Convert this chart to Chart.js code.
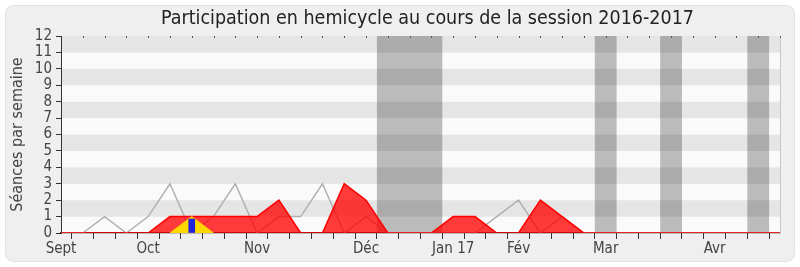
<!DOCTYPE html>
<html>
<head>
<meta charset="utf-8">
<script src="https://cdn.jsdelivr.net/npm/chart.js@4/dist/chart.umd.min.js"></script>
<style>
  html, body { margin: 0; padding: 0; background: #ffffff; }
  #wrap { width: 800px; height: 267px; }
</style>
</head>
<body>
<div id="wrap"><canvas id="c" width="800" height="267"></canvas></div>
<script>
// Weekly axis labels (one entry per week of the session)
const weekLabels = ['Sept','','','','Oct','','','','','Nov','','','','','Déc','','','','Jan 17','','','Fév','','','','Mar','','','','','Avr','','',''];

// Séances per week (grey line)
const seancesTotal = [0,0,1,0,1,3,0,1,3,0,1,1,3,0,1,0,0,0,0,0,1,2,0,1,0,0,0,0,0,0,0,0,0,0];
// Présence in the hemicycle (red area)
const presence = [0,0,0,0,0,1,1,1,1,1,2,0,0,3,2,0,0,0,1,1,0,0,2,1,0,0,0,0,0,0,0,0,0,0];
// Interventions (yellow area)
const interventions = [null,null,null,null,null,0,1,0,null,null,null,null,null,null,null,null,null,null,null,null,null,null,null,null,null,null,null,null,null,null,null,null,null,null];
// Interventions courtes (green line)
const interventionsCourtes = [null,null,null,null,null,0,0,0,null,null,null,null,null,null,null,null,null,null,null,null,null,null,null,null,null,null,null,null,null,null,null,null,null,null];
// Questions (blue bar)
const questions = [null,null,null,null,null,null,0.85,null,null,null,null,null,null,null,null,null,null,null,null,null,null,null,null,null,null,null,null,null,null,null,null,null,null,null];

// Parliamentary breaks, as week ranges
const vacancesDebut = [14.5, 24.5, 27.5, 31.5];
const vacancesFin   = [17.5, 25.5, 28.5, 32.5];

const yTickMax = 12;
const titre = 'Participation en hemicycle au cours de la session 2016-2017';
const FONT = "'DejaVu Sans Condensed', 'DejaVu Sans', sans-serif";

const backgroundPlugin = {
  id: 'fond',
  beforeDraw(chart) {
    const ctx = chart.ctx;
    const { left, right, top, bottom } = chart.chartArea;
    const x = chart.scales.x, y = chart.scales.y;
    ctx.save();
    // page and rounded panel
    ctx.fillStyle = '#ffffff';
    ctx.fillRect(0, 0, chart.width, chart.height);
    ctx.beginPath();
    ctx.roundRect(5.5, 5.5, chart.width - 11, chart.height - 11, 8);
    ctx.fillStyle = '#efefef';
    ctx.fill();
    ctx.strokeStyle = '#e2e2e2';
    ctx.lineWidth = 1;
    ctx.stroke();
    // horizontal stripes, one per unit
    for (let v = 0; v < yTickMax; v++) {
      const y0 = y.getPixelForValue(v), y1 = y.getPixelForValue(v + 1);
      ctx.fillStyle = v % 2 === 0 ? '#fafafa' : '#e5e5e5';
      ctx.fillRect(left, y1, right - left, y0 - y1);
    }
    // breaks
    ctx.fillStyle = 'rgba(0,0,0,0.25)';
    for (let i = 0; i < vacancesDebut.length; i++) {
      const xa = x.getPixelForValue(vacancesDebut[i]);
      const xb = x.getPixelForValue(vacancesFin[i]);
      ctx.fillRect(xa, top, xb - xa, bottom - top);
    }
    // title
    ctx.fillStyle = '#222222';
    ctx.font = '19.5px ' + FONT;
    ctx.textAlign = 'center';
    ctx.textBaseline = 'middle';
    ctx.fillText(titre, (left + right) / 2 + 7, 19);
    ctx.restore();
  },
  afterDraw(chart) {
    const ctx = chart.ctx;
    const { right, top, bottom } = chart.chartArea;
    const x = chart.scales.x;
    ctx.save();
    ctx.strokeStyle = '#c8c8c8';
    ctx.lineWidth = 1;
    ctx.beginPath();
    ctx.moveTo(Math.round(right) + 0.5, top);
    ctx.lineTo(Math.round(right) + 0.5, bottom);
    ctx.stroke();
    ctx.fillStyle = '#555555';
    for (let i = 1; i < weekLabels.length; i++) {
      const px = Math.round(x.getPixelForValue(i));
      ctx.fillRect(px, top, 1, 2);
    }
    ctx.restore();
  }
};

new Chart(document.getElementById('c'), {
  data: {
    labels: weekLabels,
    datasets: [
      { type: 'bar', label: 'Questions', data: questions, backgroundColor: '#2222dd',
        barThickness: 6, order: 1 },
      { type: 'line', label: 'Interventions', data: interventions, borderColor: '#ffcc00',
        backgroundColor: '#ffd700', borderWidth: 1, fill: 'origin', pointRadius: 0, tension: 0, order: 2 },
      { type: 'line', label: 'Interventions courtes', data: interventionsCourtes, borderColor: '#22aa22',
        borderWidth: 1.5, fill: false, pointRadius: 0, tension: 0, order: 3 },
      { type: 'line', label: 'Présence', data: presence, borderColor: '#ff0000',
        backgroundColor: 'rgba(255,0,0,0.77)', borderWidth: 1.5, fill: 'origin', pointRadius: 0, tension: 0, order: 4 },
      { type: 'line', label: 'Séances', data: seancesTotal, borderColor: '#b0b0b0',
        borderWidth: 1.5, fill: false, pointRadius: 0, tension: 0, order: 5 }
    ]
  },
  options: {
    responsive: false,
    animation: false,
    events: [],
    layout: { padding: { top: 36, right: 20, left: 0, bottom: 0 } },
    plugins: { legend: { display: false }, tooltip: { enabled: false }, title: { display: false } },
    scales: {
      x: {
        type: 'category',
        offset: false,
        z: 1,
        grid: { drawOnChartArea: false, drawTicks: true, tickLength: 6, color: '#333333' },
        border: { color: '#2a1a1a', width: 1.2 },
        ticks: { autoSkip: false, maxRotation: 0, color: '#444444', padding: 1,
                 font: { family: FONT, size: 15 } },
        afterFit(s) { s.height = 34; }
      },
      y: {
        min: 0, max: yTickMax,
        grid: { drawOnChartArea: false, drawTicks: true, tickLength: 5, color: '#333333' },
        border: { color: '#333333', width: 1 },
        ticks: { stepSize: 1, autoSkip: false, color: '#444444', padding: 4,
                 font: { family: FONT, size: 15 } },
        title: { display: true, text: 'Séances par semaine', color: '#444444',
                 font: { family: FONT, size: 16 }, padding: { top: 8, bottom: 0 } },
        afterFit(s) { s.width = 61; }
      }
    }
  },
  plugins: [backgroundPlugin]
});
</script>
</body>
</html>
